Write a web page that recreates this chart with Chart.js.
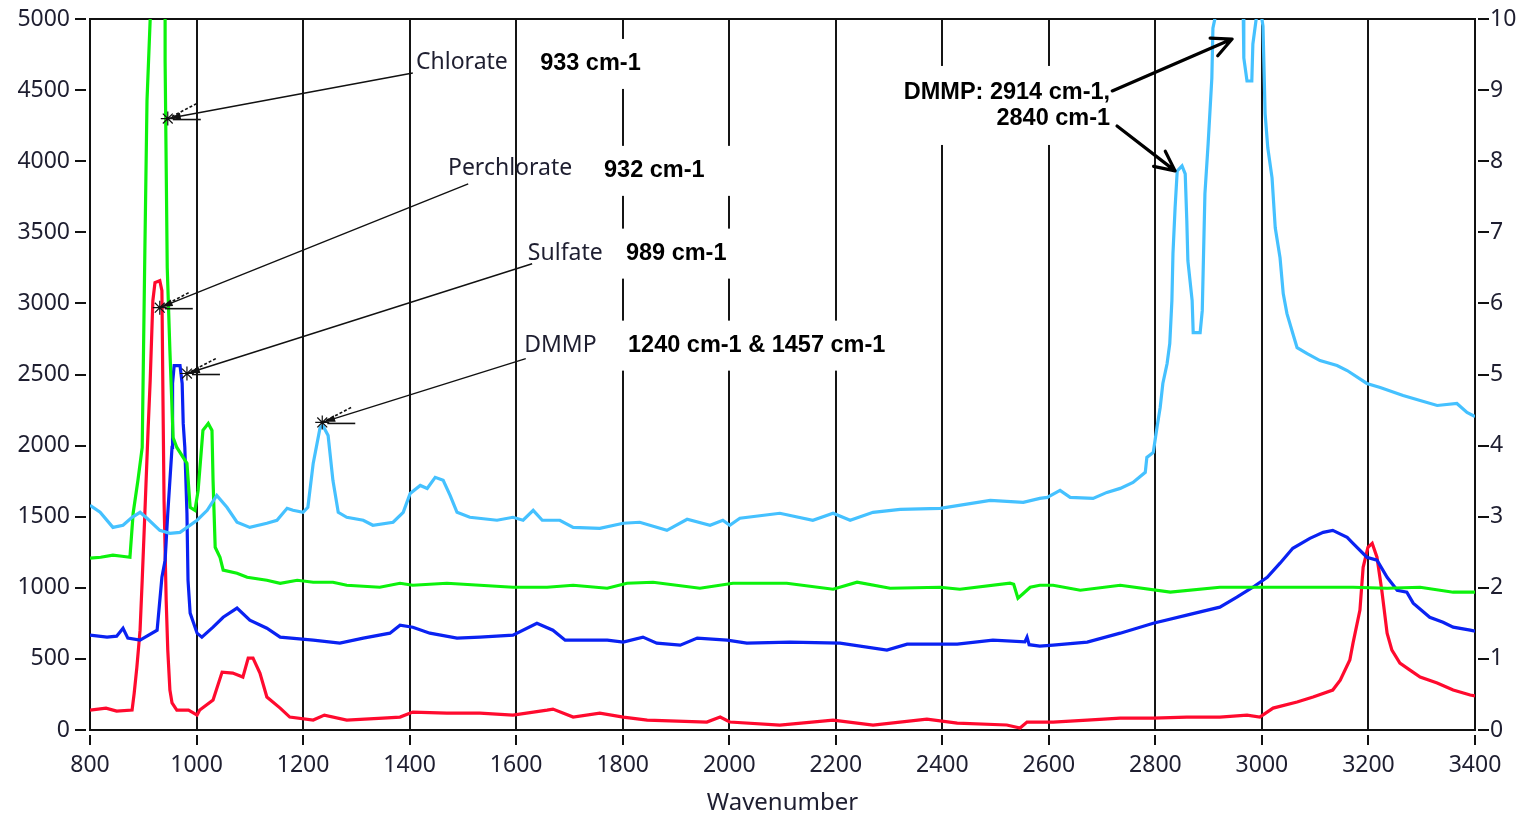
<!DOCTYPE html>
<html><head><meta charset="utf-8">
<script src="https://cdn.jsdelivr.net/npm/chart.js@4.4.1/dist/chart.umd.min.js"></script>
<style>html,body{margin:0;padding:0;background:#fff;overflow:hidden}canvas{display:block}</style>
</head><body>
<canvas id="c" width="1522" height="816"></canvas>
<script>
// ---------- DATA (wavenumber, intensity) ----------
const xTickValues = [800,1000,1200,1400,1600,1800,2000,2200,2400,2600,2800,3000,3200,3400];
const leftTickValues = [0,500,1000,1500,2000,2500,3000,3500,4000,4500,5000];
const rightTickValues = [0,1,2,3,4,5,6,7,8,9,10];

const dmmp = [[800,1580],[819,1531],[843,1425],[862,1440],[879,1496],[894,1531],[907,1489],[931,1404],[950,1383],[969,1390],[1001,1475],[1020,1545],[1038,1650],[1057,1566],[1076,1461],[1100,1425],[1132,1454],[1151,1475],[1170,1559],[1181,1545],[1200,1531],[1209,1566],[1219,1875],[1232,2128],[1237,2142],[1247,2071],[1256,1756],[1266,1531],[1282,1496],[1313,1475],[1331,1440],[1369,1461],[1388,1531],[1401,1664],[1420,1720],[1433,1699],[1448,1777],[1463,1756],[1476,1650],[1489,1531],[1513,1496],[1564,1475],[1594,1496],[1613,1475],[1632,1545],[1649,1475],[1682,1475],[1707,1425],[1757,1418],[1801,1454],[1832,1461],[1883,1404],[1921,1482],[1964,1440],[1988,1475],[2001,1440],[2020,1489],[2095,1524],[2157,1475],[2195,1524],[2227,1475],[2270,1531],[2321,1552],[2396,1559],[2490,1615],[2552,1601],[2583,1629],[2597,1636],[2621,1685],[2640,1636],[2683,1629],[2709,1671],[2734,1699],[2758,1741],[2781,1812],[2784,1917],[2796,1952],[2803,2128],[2809,2268],[2814,2437],[2822,2577],[2827,2718],[2831,3019],[2833,3349],[2837,3673],[2841,3932],[2850,3967],[2856,3911],[2859,3581],[2861,3300],[2869,3019],[2871,2795],[2884,2795],[2888,2949],[2893,3771],[2899,4122],[2906,4585],[2908,4936],[2912,5007],[2920,5800],[2958,5800],[2965,5007],[2966,4726],[2972,4564],[2981,4564],[2983,4824],[2991,5050],[2998,5050],[3002,4950],[3006,4333],[3011,4094],[3019,3883],[3025,3532],[3034,3321],[3040,3069],[3047,2928],[3058,2788],[3066,2689],[3085,2647],[3109,2598],[3141,2563],[3160,2528],[3197,2437],[3222,2409],[3265,2352],[3297,2317],[3329,2282],[3366,2296],[3385,2233],[3400,2205]];

const chlorate = [[800,1208],[820,1215],[843,1229],[860,1222],[875,1215],[881,1524],[890,1756],[898,1987],[903,3370],[907,4424],[913,5000],[918,6500],[936,6500],[941,5000],[941,4705],[945,3251],[950,2668],[956,2057],[963,1987],[982,1875],[988,1566],[997,1545],[1003,1685],[1012,2107],[1022,2156],[1029,2107],[1031,1756],[1035,1285],[1044,1215],[1050,1124],[1076,1102],[1095,1074],[1132,1053],[1157,1032],[1189,1053],[1219,1039],[1256,1039],[1282,1018],[1344,1004],[1382,1032],[1406,1018],[1470,1032],[1532,1018],[1594,1004],[1658,1004],[1707,1018],[1771,997],[1808,1032],[1857,1039],[1945,997],[2007,1032],[2108,1032],[2195,990],[2240,1039],[2302,997],[2396,1004],[2433,990],[2527,1032],[2534,1025],[2542,927],[2552,960],[2565,1004],[2583,1018],[2608,1018],[2659,983],[2734,1018],[2828,969],[2921,1004],[2996,1004],[3077,1004],[3171,1004],[3235,997],[3297,1004],[3359,969],[3400,969]];

const sulfate = [[800,667],[832,653],[850,660],[862,716],[871,646],[894,632],[926,702],[935,1074],[941,1194],[946,1524],[954,1987],[955,2437],[958,2563],[969,2563],[973,2437],[975,2156],[978,1987],[982,1524],[984,1053],[988,822],[1001,681],[1010,653],[1031,723],[1050,793],[1076,857],[1100,772],[1132,716],[1157,653],[1219,632],[1269,611],[1313,646],[1363,681],[1382,737],[1406,723],[1438,681],[1489,646],[1532,653],[1594,667],[1639,751],[1669,702],[1692,632],[1771,632],[1801,618],[1838,653],[1864,611],[1908,597],[1940,646],[1996,632],[2033,611],[2114,618],[2208,611],[2296,562],[2334,604],[2428,604],[2495,632],[2555,620],[2559,653],[2563,600],[2583,590],[2608,597],[2672,618],[2734,681],[2796,751],[2859,808],[2921,864],[2953,934],[2983,1004],[3010,1074],[3034,1173],[3058,1278],[3090,1348],[3115,1390],[3133,1404],[3160,1355],[3171,1313],[3197,1215],[3216,1194],[3235,1074],[3254,983],[3272,969],[3284,892],[3315,793],[3340,758],[3359,723],[3391,702],[3400,695]];

const perchlorate = [[800,140],[830,154],[850,133],[879,140],[883,260],[888,442],[894,702],[898,1053],[903,1524],[909,2107],[913,2458],[918,3019],[922,3146],[931,3160],[935,3090],[937,2317],[939,1615],[943,913],[946,562],[950,281],[954,190],[963,140],[985,140],[1001,105],[1006,140],[1031,211],[1048,407],[1068,400],[1087,372],[1097,506],[1106,506],[1119,400],[1132,232],[1157,154],[1175,91],[1219,70],[1240,105],[1282,70],[1350,84],[1382,91],[1406,126],[1470,119],[1532,119],[1594,105],[1658,140],[1669,147],[1707,91],[1757,119],[1801,91],[1846,70],[1958,56],[1983,91],[2001,56],[2095,35],[2195,70],[2270,35],[2371,77],[2428,49],[2521,35],[2546,14],[2559,56],[2608,56],[2672,70],[2734,84],[2796,84],[2859,91],[2921,91],[2972,105],[2996,91],[3021,154],[3066,197],[3096,232],[3133,281],[3147,351],[3165,492],[3171,611],[3184,843],[3190,1144],[3199,1285],[3207,1313],[3216,1215],[3225,983],[3235,681],[3244,562],[3259,470],[3278,421],[3297,372],[3329,330],[3359,281],[3391,246],[3400,240]];

// ---------- ANNOTATIONS (in data units) ----------
const thinArrows = [
  {tip:[946,4300], end:[1406,4620]},
  {tip:[931,2970], end:[1510,3841]},
  {tip:[982,2507], end:[1630,3279]},
  {tip:[1236,2163], end:[1618,2612]}
];
const nameLabels = [
  {text:'Chlorate', at:[1412,4691]},
  {text:'Perchlorate', at:[1472,3946]},
  {text:'Sulfate', at:[1622,3350]},
  {text:'DMMP', at:[1615,2703]}
];
const peakLabels = [
  {text:'933 cm-1', at:[1645,4684]},
  {text:'932 cm-1', at:[1765,3932]},
  {text:'989 cm-1', at:[1806,3350]},
  {text:'1240 cm-1 & 1457 cm-1', at:[1810,2703]}
];
const dmmpLines = ['DMMP: 2914 cm-1,', '2840 cm-1'];
const dmmpLabelAt = [[2715,4480],[2715,4297]]; // right-aligned anchors
const thickArrows = [
  {from:[2719,4494], to:[2944,4859]},
  {from:[2728,4248], to:[2837,3932]}
];

const FONT = "'Noto Sans', 'DejaVu Sans', sans-serif";
const TXT = '#1e1e30';

const framePlugin = {
  id:'frame',
  beforeDatasetsDraw(chart){
    const {ctx, chartArea:a} = chart;
    ctx.save(); ctx.strokeStyle='#111'; ctx.lineWidth=2;
    ctx.strokeRect(a.left, a.top, a.right-a.left, a.bottom-a.top);
    ctx.restore();
  },
  afterDraw(chart){
    const {ctx, chartArea:a, scales} = chart;
    ctx.save(); ctx.strokeStyle='#111'; ctx.lineWidth=2; ctx.beginPath();
    scales.y.ticks.forEach(t=>{const p=Math.round(scales.y.getPixelForValue(t.value)); ctx.moveTo(a.left-15,p); ctx.lineTo(a.left-4,p);});
    scales.y2.ticks.forEach(t=>{const p=Math.round(scales.y2.getPixelForValue(t.value)); ctx.moveTo(a.right+3,p); ctx.lineTo(a.right+14,p);});
    scales.x.ticks.forEach(t=>{const p=Math.round(scales.x.getPixelForValue(t.value)); ctx.moveTo(p,a.bottom+5); ctx.lineTo(p,a.bottom+15);});
    ctx.stroke(); ctx.restore();
  }
};

function thinArrow(ctx, tx, ty, ex, ey){
  ctx.save();
  ctx.strokeStyle='#111'; ctx.fillStyle='#111';
  ctx.lineWidth=1.4;
  ctx.beginPath(); ctx.moveTo(ex,ey); ctx.lineTo(tx,ty); ctx.stroke();
  const r=7; ctx.lineWidth=1.2; ctx.beginPath();
  for(let k=0;k<4;k++){const an=k*Math.PI/4; ctx.moveTo(tx-r*Math.cos(an),ty-r*Math.sin(an)); ctx.lineTo(tx+r*Math.cos(an),ty+r*Math.sin(an));}
  ctx.stroke();
  ctx.lineWidth=1.6;
  ctx.beginPath(); ctx.moveTo(tx+5,ty+1); ctx.lineTo(tx+33,ty+1); ctx.stroke();
  ctx.setLineDash([3,2]); ctx.beginPath(); ctx.moveTo(tx+4,ty-2); ctx.lineTo(tx+29,ty-15); ctx.stroke(); ctx.setLineDash([]);
  const ang=Math.atan2(ey-ty,ex-tx), c=Math.cos(ang), s=Math.sin(ang);
  ctx.beginPath();
  ctx.moveTo(tx+2*c, ty+2*s);
  ctx.lineTo(tx+13*c+3.5*s, ty+13*s-3.5*c);
  ctx.lineTo(tx+13*c-3.5*s, ty+13*s+3.5*c);
  ctx.closePath(); ctx.fill();
  ctx.restore();
}
function thickArrow(ctx, fx, fy, tx, ty){
  ctx.save(); ctx.strokeStyle='#000'; ctx.lineWidth=3.2; ctx.lineCap='round'; ctx.lineJoin='round';
  const ang=Math.atan2(ty-fy,tx-fx), L=22, w=0.45;
  ctx.beginPath(); ctx.moveTo(fx,fy); ctx.lineTo(tx,ty);
  ctx.moveTo(tx-L*Math.cos(ang-w), ty-L*Math.sin(ang-w)); ctx.lineTo(tx,ty); ctx.lineTo(tx-L*Math.cos(ang+w), ty-L*Math.sin(ang+w));
  ctx.stroke(); ctx.restore();
}

const annoPlugin = {
  id:'anno',
  afterDatasetsDraw(chart){
    const {ctx, scales:{x,y}} = chart;
    const P = (p)=>[x.getPixelForValue(p[0]), y.getPixelForValue(p[1])];
    ctx.save();
    thinArrows.forEach(a=>{const t=P(a.tip), e=P(a.end); thinArrow(ctx,t[0],t[1],e[0],e[1]);});
    ctx.font = "23px " + FONT; ctx.fillStyle = TXT; ctx.textBaseline='middle'; ctx.textAlign='left';
    nameLabels.forEach(l=>{const p=P(l.at); ctx.fillText(l.text,p[0],p[1]);});
    ctx.font = "bold 23.5px 'Liberation Sans', Arial, sans-serif";
    peakLabels.forEach(l=>{
      const p=P(l.at); const w=ctx.measureText(l.text).width;
      ctx.fillStyle='#fff'; ctx.fillRect(p[0]-10, p[1]-25, w+40, 50);
      ctx.fillStyle='#000'; ctx.fillText(l.text,p[0],p[1]);
    });
    const a1=P(dmmpLabelAt[0]), a2=P(dmmpLabelAt[1]);
    const w1=ctx.measureText(dmmpLines[0]).width;
    ctx.fillStyle='#fff'; ctx.fillRect(a1[0]-w1-10, a1[1]-27, w1+20, (a2[1]-a1[1])+53);
    ctx.fillStyle='#000'; ctx.textAlign='right';
    ctx.fillText(dmmpLines[0], a1[0], a1[1]);
    ctx.fillText(dmmpLines[1], a2[0], a2[1]);
    thickArrows.forEach(a=>{const f=P(a.from), t=P(a.to); thickArrow(ctx,f[0],f[1],t[0],t[1]);});
    ctx.restore();
  }
};

const toXY = arr => arr.map(p=>({x:p[0], y:p[1]}));
const ds = (label, data, color) => ({label, data:toXY(data), borderColor:color, backgroundColor:color, borderWidth:3.2, pointRadius:0, tension:0, fill:false, yAxisID:'y'});
const plain = v => String(v);
const noPad = s => { s.paddingTop = 0; s.paddingBottom = 0; s.paddingLeft = 0; s.paddingRight = 0; };

Chart.defaults.font.family = FONT;
new Chart(document.getElementById('c'), {
  type:'line',
  data:{datasets:[
    ds('DMMP', dmmp, '#45c1ff'),
    ds('Chlorate', chlorate, '#0cf20c'),
    ds('Sulfate', sulfate, '#0a22f2'),
    ds('Perchlorate', perchlorate, '#ff0a2e')
  ]},
  options:{
    responsive:false, animation:false, devicePixelRatio:1,
    layout:{padding:{top:19,left:0,right:0,bottom:0}},
    plugins:{legend:{display:false}, tooltip:{enabled:false}},
    scales:{
      x:{type:'linear', min:800, max:3400,
        afterBuildTicks:s=>{s.ticks = xTickValues.map(v=>({value:v}));},
        afterFit:s=>{s.height=86; noPad(s);},
        grid:{display:true, color:'#151515', lineWidth:2, drawTicks:false},
        border:{display:false},
        ticks:{padding:22, color:TXT, font:{size:23}, maxRotation:0, autoSkip:false, callback:plain},
        title:{display:true, text:'Wavenumber', color:TXT, font:{size:24, lineHeight:1}, padding:{top:4,bottom:1}}
      },
      y:{type:'linear', position:'left', min:0, max:5000,
        afterBuildTicks:s=>{s.ticks = leftTickValues.map(v=>({value:v}));},
        afterFit:s=>{s.width=90; noPad(s);},
        grid:{display:false, drawTicks:false}, border:{display:false},
        ticks:{padding:20, color:TXT, font:{size:23}, callback:plain}
      },
      y2:{type:'linear', position:'right', min:0, max:10,
        afterBuildTicks:s=>{s.ticks = rightTickValues.map(v=>({value:v}));},
        afterFit:s=>{s.width=47; noPad(s);},
        grid:{display:false, drawTicks:false}, border:{display:false},
        ticks:{padding:15, color:TXT, font:{size:23}, callback:plain}
      }
    }
  },
  plugins:[framePlugin, annoPlugin]
});
</script>
</body></html>
